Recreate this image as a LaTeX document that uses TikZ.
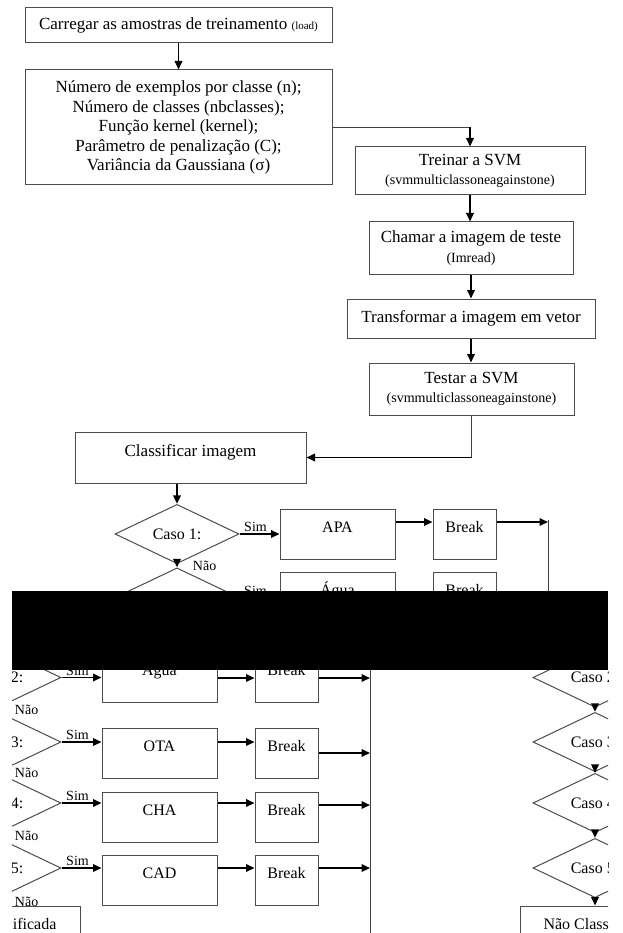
\documentclass[tikz,border=0pt]{standalone}
\usepackage{fontspec}
\setmainfont{Liberation Serif}
\usetikzlibrary{shapes.geometric,arrows.meta}
\tikzset{
  box/.style = {draw=black!70, line width=1pt, inner sep=0pt, align=center,
                font=\fontsize{17}{19.5}\selectfont},
  casebox/.style = {box, minimum width=#1, minimum height=50pt,
                text height=12pt, text depth=16pt, font=\fontsize{16}{18}\selectfont},
  casebox/.default = 115pt,
  casedia/.style = {diamond, draw=black!70, line width=1pt, inner sep=0pt,
                minimum width=124pt, minimum height=50pt,
                font=\fontsize{16}{18}\selectfont},
  arr/.style = {-{Triangle[length=8.5pt,width=7.5pt]}, line width=1.9pt},
  wire/.style = {line width=1pt, draw=black!75},
  tag/.style = {font=\fontsize{14}{16}\selectfont, inner sep=1pt}
}
\newcommand\subtxt[1]{{\fontsize{14}{16}\selectfont #1}}
% the chain of cases #1..#2, drawn in the coordinates of the upper part
\newcommand\casetree[2]{%
  \coordinate (bus) at (548,520);
  \draw[wire] (bus) -- (548,930);
  \foreach \k/\txt/\yc/\yb/\yab/\ybb in {1/APA/534/534/522/522,
      2/Água/597.5/597.5/598/598, 3/OTA/662/673/662/673,
      4/CHA/723/737.5/723/725, 5/CAD/788/800.5/788/788} {
    \ifnum\k<#1\relax\else\ifnum\k>#2\relax\else
    \node[casedia] (c\k) at (177,\yc) {Caso \k:};
    \node[casebox] (t\k) at (337.5,\yb) {\txt};
    \node[casebox=63pt] (b\k) at (464.5,\yb) {Break};
    \draw[arr] (c\k.east) -- node[tag, above, pos=0.4]{Sim} (c\k.east -| t\k.west);
    \draw[arr] (t\k.east |- 0,\yab) -- (b\k.west |- 0,\yab);
    \draw[arr] (b\k.east |- 0,\ybb) -- (bus |- 0,\ybb);
    \fi\fi
  }
  \foreach \k [evaluate=\k as \n using int(\k+1)] in {#1,...,4} {
    \ifnum\n>#2\relax\else
    \draw[arr] (c\k.south) -- node[tag, right=14pt]{Não} (c\n.north);
    \fi
  }
  \ifnum#2=5
    \node[casebox=156pt] (nc) at (180,851) {Não Classificada};
    \draw[arr] (c5.south) -- node[tag, right=14pt]{Não} (c5.south |- nc.north);
  \fi
}

\begin{document}
\begin{tikzpicture}[x=1pt, y=-1pt]
	\useasboundingbox[fill=white] (0,0) rectangle (622,933);

	% Upper chain
	\node[box, minimum width=307pt, minimum height=35pt] (load) at (178.5,25.5)
		{Carregar as amostras de treinamento {\fontsize{11}{12}\selectfont (load)}};
	\node[box, minimum width=307pt, minimum height=115pt] (params) at (178.5,127.5)
		{Número de exemplos por classe (n);\\ Número de classes (nbclasses);\\
		 Função kernel (kernel);\\ Parâmetro de penalização (C);\\
		 Variância da Gaussiana (σ)};
	\node[box, minimum width=230pt, minimum height=48pt] (train) at (470,171)
		{Treinar a SVM\\ \subtxt{(svmmulticlassoneagainstone)}};
	\node[box, minimum width=204pt, minimum height=52pt] (read) at (471,248)
		{Chamar a imagem de teste\\ \subtxt{(Imread)}};
	\node[box, minimum width=248pt, minimum height=39pt] (vec) at (471,318.5)
		{Transformar a imagem em vetor};
	\node[box, minimum width=205pt, minimum height=52pt] (test) at (471.5,389)
		{Testar a SVM\\ \subtxt{(svmmulticlassoneagainstone)}};
	\node[box, minimum width=231pt, minimum height=51pt, text height=12pt,
		text depth=15pt] (classify) at (190.5,457.5) {Classificar imagem};

	\draw[arr] (load) -- (params);
	\coordinate (elbow1) at (params.east -| train.north);
	\draw[wire] (params.east) -- (elbow1);
	\draw[arr] (elbow1) -- (train.north);
	\draw[arr] (train.south) -- (train.south |- read.north);
	\draw[arr] (read.south) -- (read.south |- vec.north);
	\draw[arr] (vec.south) -- (vec.south |- test.north);
	\coordinate (elbow2) at (test.south |- classify.east);
	\draw[wire] (test.south) -- (elbow2);
	\draw[arr] (elbow2) -- (classify.east);

	% Cases, upper part
	\begin{scope}
		\clip (0,0) rectangle (622,600);
		\casetree{1}{2}
	\end{scope}
	\draw[arr] (classify.south -| c1.north) -- (c1.north);

	% Cases, lower part (shifted pieces)
	\begin{scope}
		\clip (12,665) rectangle (430,933);
		\begin{scope}[shift={(-178,80)}, name prefix=l-]
			\casetree{2}{5}
		\end{scope}
	\end{scope}
	\begin{scope}
		\clip (430,665) rectangle (608,933);
		\begin{scope}[shift={(418,80)}, name prefix=r-]
			\casetree{2}{5}
		\end{scope}
	\end{scope}

	% Bar
	\fill[black] (12,591) rectangle (608,670);
\end{tikzpicture}
\end{document}
